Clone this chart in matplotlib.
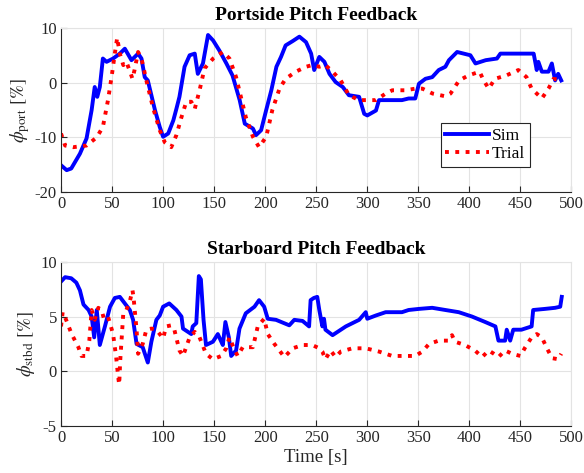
import matplotlib

matplotlib.use("Agg")

import matplotlib.pyplot as plt
import numpy as np

# ---------------------------------------------------------------------------
# Data
# ---------------------------------------------------------------------------
port_sim_t = [0, 5.5, 10, 18.5, 25, 30, 33, 35.5, 38, 41, 44.6, 51, 57.6, 62.5, 69, 75.5,
              78.8, 82, 85, 92, 96.7, 100, 105, 110, 113, 116, 121, 126, 131, 134, 139,
              144, 149, 155, 162, 168, 175, 180, 188, 191, 196, 201, 206, 211, 215.5, 220,
              227, 233.5, 240, 245, 248, 253, 258, 263, 269, 276, 282, 292, 297, 300,
              308.5, 311.5, 324.5, 334, 340.5, 347, 350.6, 357, 363.6, 370, 376.5, 380,
              388, 401, 406, 416, 427, 430.4, 441.8, 454.8, 463, 466, 467.6, 471, 477.5,
              480.8, 484, 487, 490]
port_sim_v = [-15.1, -16.0, -15.7, -13, -10.2, -5, -0.8, -2.6, -0.8, 4.4, 3.8, 4.4, 5.3, 6.2,
              4.1, 5.3, 4.4, 1, 0.4, -5, -8.1, -9.9, -9.3, -6.9, -4.8, -2.6, 2.9, 5, 5.3,
              1.6, 3.5, 8.7, 7.7, 5.9, 3.5, 1.3, -3.2, -7.5, -8.4, -9.6, -8.7, -5, -1.4,
              2.9, 4.7, 6.8, 7.6, 8.4, 7.4, 5.3, 2.3, 4.7, 3.8, 1.6, 0.1, -0.8, -2.3, -2.6,
              -5.7, -6, -5.1, -3.2, -3.2, -3.2, -2.9, -2.9, -0.2, 0.7, 1, 2.3, 2.9, 4.1, 5.6,
              5, 3.5, 4.1, 4.4, 5.3, 5.3, 5.3, 5.3, 2.3, 3.8, 2, 2, 3.5, 0.4, 1.6, 0.4]

port_trial_t = [0, 4, 12, 25, 35, 41, 46, 49.5, 52.7, 55, 57.6, 61, 64, 67, 70, 72, 75.5,
                78.8, 83.6, 90, 96.7, 101.6, 108, 113, 118, 122.7, 127.6, 131, 135.7, 140.6,
                149, 158.5, 165, 171.5, 181, 188, 194, 201, 207, 214, 220, 230, 240, 246,
                253, 259, 266, 274, 282, 292, 308.5, 318, 324.5, 337.5, 347, 354, 364, 376.5,
                381.5, 390, 399, 410, 414, 419, 425, 436, 448, 456, 461, 471, 477.5, 482.5, 490]
port_trial_v = [-9.3, -11.5, -11.8, -11.5, -10, -8.1, -3.2, 1, 5.3, 8.2, 5.3, 3.2, 3.8, 2.3,
                0.7, 2.3, 5.6, 4.4, 0.4, -4.5, -8.7, -10.9, -11.8, -9.6, -6.3, -3.5, -3.5,
                -4.8, -1.4, 2.6, 4.4, 5.6, 4.4, 1, -6.3, -9.9, -11.8, -9.9, -5, -1.1, 0.7, 2,
                2.9, 3.2, 2.9, 3.2, 2, 0.4, -2.3, -3.2, -3.2, -2, -1.4, -1.4, -1.1, -1.1, -2,
                -2.5, -2, 0.4, 1.3, 2, 0.4, -1.1, 0.7, 1.3, 2.3, 1, -1.1, -2.9, -1.1, 0.7, 0.4]

stbd_sim_t = [0, 4, 10, 15, 18.5, 22, 27, 30, 32.5, 35, 38, 43, 48, 52.7, 57.6, 62.5, 67.4,
              70.6, 74, 80, 85, 88.5, 93.4, 96.7, 100, 106, 113, 118, 119.5, 127.6, 129,
              132.5, 135, 137, 139.6, 142, 148.8, 153.6, 157, 158.5, 161, 164.4, 166.7,
              171.5, 174.8, 181, 189.5, 194, 199, 202.5, 210.6, 223.6, 228.5, 236.6, 243,
              244.5, 247.7, 251, 253, 256, 257.6, 259, 266, 279, 292, 298.5, 300, 308.5,
              318, 334, 340.5, 350.6, 363.6, 376.5, 389.6, 402.6, 415.6, 425.5, 428.5, 435,
              436.6, 440, 443, 451, 461, 462.5, 474, 484, 489, 490.5]
stbd_sim_v = [8.2, 8.6, 8.5, 8.1, 7.4, 6.1, 5.6, 5, 3.1, 5.6, 2.4, 4.1, 5.9, 6.7, 6.8, 6.2,
              5.6, 4.7, 2.5, 2.2, 0.8, 2.7, 4.7, 5.1, 5.9, 6.2, 5.6, 5, 3.9, 3.4, 4.1, 4.4,
              8.7, 8.4, 4.7, 2.4, 2.7, 3.4, 2.7, 2.4, 4.5, 3.1, 1.4, 1.9, 3.9, 5.3, 5.9, 6.5,
              5.9, 4.8, 4.7, 4.2, 4.7, 4.6, 4.1, 6.5, 6.7, 6.8, 5.6, 4.1, 4.8, 3.8, 3.3, 4.1,
              4.7, 5.4, 4.8, 5.1, 5.4, 5.4, 5.6, 5.7, 5.8, 5.6, 5.4, 5, 4.5, 4.1, 2.8, 2.8,
              3.8, 2.8, 3.8, 3.8, 4.1, 5.6, 5.7, 5.8, 5.9, 6.8]

stbd_trial_t = [0, 1.6, 5, 10.4, 17, 20, 25, 27.7, 30, 33, 36.5, 39.7, 42, 46, 51, 54, 56,
                57, 58, 61, 64, 67.4, 70, 71, 74, 75.5, 80, 83.6, 88.5, 93.4, 100, 103, 108,
                111, 116, 119.5, 126, 131, 135.7, 142, 148.8, 157, 161.8, 165, 168, 173,
                178, 188, 192.7, 199, 202.5, 209, 218.8, 227, 236.6, 246, 253, 256, 259,
                264, 269, 274, 285.5, 298.5, 311.5, 324.5, 347, 354, 360.5, 370, 380, 383,
                386, 395.6, 405.5, 412.5, 419, 424, 428.5, 435, 441.8, 450, 454.8, 461, 466,
                471, 476, 481, 487, 490]
stbd_trial_v = [4.1, 5.4, 4.7, 3.4, 2.2, 1.4, 1.4, 2.8, 5.6, 4.7, 5.8, 5.6, 4.8, 5, 3.4,
                1.3, -0.55, -1.2, 1, 5.3, 5.6, 6.4, 7.4, 6.8, 3.8, 1.6, 2.5, 3.8, 3.9, 3.8,
                3, 4.1, 4.2, 3.8, 1.9, 1.4, 3.1, 3.6, 3.1, 1.6, 1.1, 1.4, 2.1, 3.1, 2.4, 1.4,
                2.2, 2.2, 4.1, 4.8, 3.4, 2.5, 1.3, 2.1, 2.4, 2.4, 2.1, 1.8, 1.1, 1.9, 1.3,
                1.8, 2.1, 2.1, 1.8, 1.4, 1.4, 1.8, 2.5, 2.8, 2.8, 3.3, 2.7, 2.4, 1.9, 1.3,
                1.9, 1.6, 1.3, 1.9, 1.6, 1.4, 2.2, 3.1, 3.4, 3.1, 2.1, 1.2, 1.1, 1.6]

X_TICKS = np.arange(0, 501, 50)

# ---------------------------------------------------------------------------
# Style (MATLAB-ish)
# ---------------------------------------------------------------------------
plt.rcParams["font.family"] = ["Liberation Serif", "DejaVu Serif"]
plt.rcParams["mathtext.fontset"] = "stix"
plt.rcParams["axes.unicode_minus"] = False

fig = plt.figure(figsize=(5.84, 4.73), dpi=100)
ax_p = fig.add_axes([0.1045, 0.594, 0.874, 0.347])
ax_s = fig.add_axes([0.1045, 0.0994, 0.874, 0.347])

for ax in (ax_p, ax_s):
    ax.set_xlim(0, 500)
    ax.set_xticks(X_TICKS)
    ax.grid(True, color="#e3e3e3", lw=0.8)
    ax.set_axisbelow(True)
    ax.tick_params(direction="in", length=4, colors="#262626", labelsize=12, pad=3)
    for side in ("top", "right"):
        ax.spines[side].set_color("#e3e3e3")
    for side in ("left", "bottom"):
        ax.spines[side].set_color("#262626")

# Portside
ax_p.plot(port_sim_t, port_sim_v, color="#0000ff", lw=2.8, label="Sim")
ax_p.plot(port_trial_t, port_trial_v, color="#ff0000", lw=2.8, ls=":", label="Trial")
ax_p.set_ylim(-20, 10)
ax_p.set_yticks([-20, -10, 0, 10])
ax_p.set_ylabel(r"$\phi_{\mathrm{port}}\ [\%]$", fontsize=13.5, color="#262626", labelpad=2)
ax_p.set_title("Portside Pitch Feedback", fontweight="bold", fontsize=14, pad=6)
leg = ax_p.legend(loc="lower left", bbox_to_anchor=(0.744, 0.154), fancybox=False,
                  edgecolor="#262626", framealpha=1, fontsize=12.5, handlelength=2.5,
                  borderpad=0.25, labelspacing=0.15, handletextpad=0.2, borderaxespad=0)
leg.get_frame().set_linewidth(0.8)

# Starboard
ax_s.plot(stbd_sim_t, stbd_sim_v, color="#0000ff", lw=2.8)
ax_s.plot(stbd_trial_t, stbd_trial_v, color="#ff0000", lw=2.8, ls=":")
ax_s.set_ylim(-5, 10)
ax_s.set_yticks([-5, 0, 5, 10])
ax_s.set_ylabel(r"$\phi_{\mathrm{stbd}}\ [\%]$", fontsize=13.5, color="#262626", labelpad=2)
ax_s.set_xlabel("Time [s]", fontsize=13.5, color="#262626", labelpad=2)
ax_s.set_title("Starboard Pitch Feedback", fontweight="bold", fontsize=14, pad=6)

fig.savefig("out.png", dpi=100)
